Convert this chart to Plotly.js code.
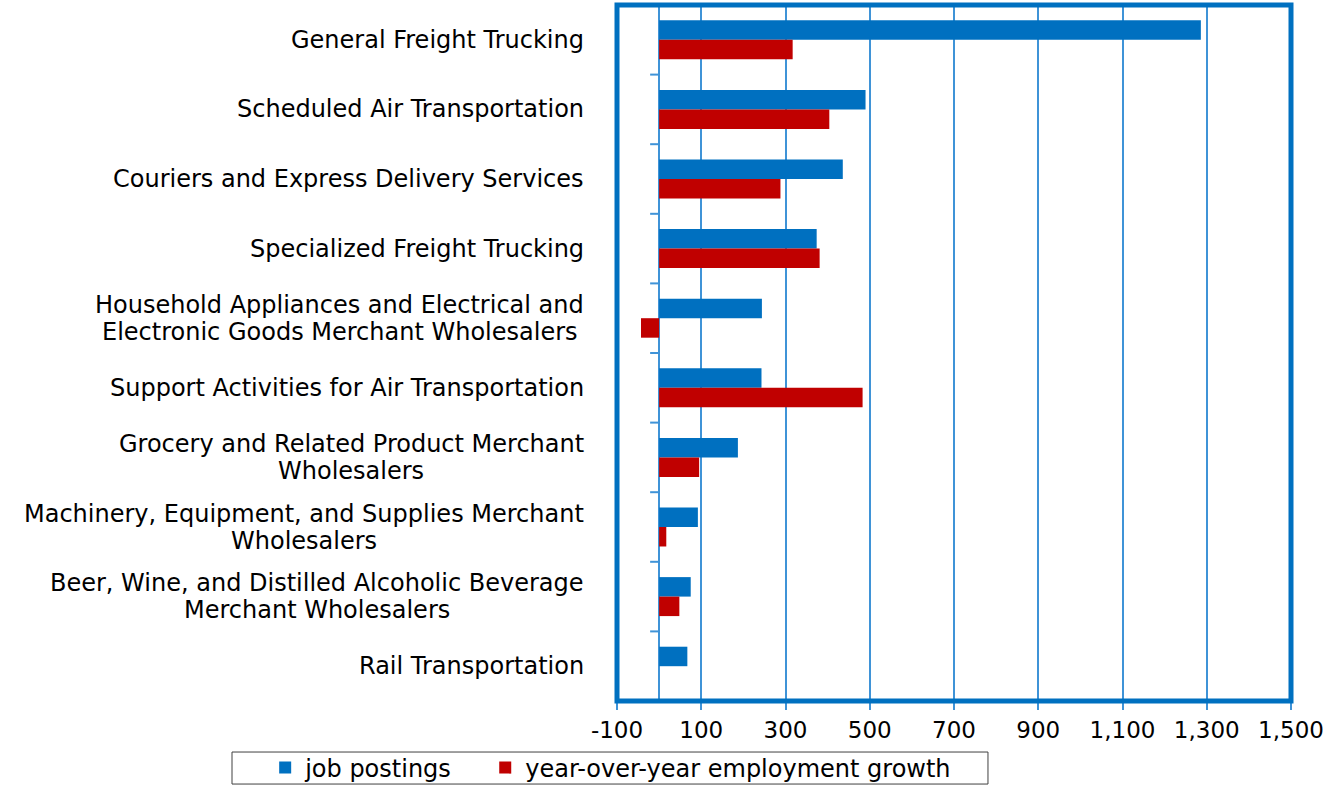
<!DOCTYPE html>
<html>
<head>
<meta charset="utf-8">
<script src="https://cdn.plot.ly/plotly-3.0.1.min.js"></script>
<style>html,body{margin:0;padding:0;background:#fff;}#chart{width:1326px;height:785px;}</style>
</head>
<body>
<div id="chart"></div>
<script>
const categories = [
  "General Freight Trucking",
  "Scheduled Air Transportation",
  "Couriers and Express Delivery Services",
  "Specialized Freight Trucking",
  "Household Appliances and Electrical and<br>Electronic Goods Merchant Wholesalers",
  "Support Activities for Air Transportation",
  "Grocery and Related Product Merchant<br>Wholesalers",
  "Machinery, Equipment, and Supplies Merchant<br>Wholesalers",
  "Beer, Wine, and Distilled Alcoholic Beverage<br>Merchant Wholesalers",
  "Rail Transportation"
];
const jobPostings = [1286, 490, 436, 374, 244, 243, 187, 92, 75, 67];
const employmentGrowth = [317, 404, 288, 381, -43, 483, 95, 17, 48, 0];
const seriesNames = ["job postings", "year-over-year employment growth"];
const xTickValues = [-100, 100, 300, 500, 700, 900, 1100, 1300, 1500];
const xTickLabels = ["-100", "100", "300", "500", "700", "900", "1,100", "1,300", "1,500"];

const BLUE = "#0070C0", RED = "#C00000", GRID = "#3F93D7";
const FONT = "DejaVu Sans, Liberation Sans, Arial, sans-serif";
const LABEL_SIZE = 24, LINE_GAP = 27;

const traces = [
  {type: "bar", orientation: "h", name: seriesNames[0], y: categories, x: jobPostings,
   marker: {color: BLUE, line: {width: 0}}, legend: "legend"},
  {type: "bar", orientation: "h", name: seriesNames[1], y: categories, x: employmentGrowth,
   marker: {color: RED, line: {width: 0}}, legend: "legend2"}
];

const shapes = [
  {type: "rect", xref: "paper", yref: "paper", x0: 0, x1: 1, y0: 0, y1: 1,
   line: {color: BLUE, width: 5}, layer: "above"},
  {type: "rect", xref: "paper", yref: "paper", x0: -0.5712, x1: 0.5504, y0: -0.1193, y1: -0.0733,
   line: {color: "#404040", width: 1}, fillcolor: "rgba(0,0,0,0)"}
];
for (let i = 0; i < categories.length - 1; i++) {
  shapes.push({type: "line", xref: "x", xsizemode: "pixel", xanchor: 0, x0: -9, x1: 0,
    yref: "y", y0: i + 0.5, y1: i + 0.5, line: {color: GRID, width: 2}});
}

// category labels: one annotation per line, lines centred on each other, block right-aligned
const ctx = document.createElement("canvas").getContext("2d");
ctx.font = LABEL_SIZE + "px 'DejaVu Sans'";
const annotations = [];
categories.forEach(c => {
  const lines = c.split("<br>");
  const blockW = Math.max(...lines.map(l => ctx.measureText(l).width));
  lines.forEach((l, k) => {
    annotations.push({
      xref: "paper", x: 0, xanchor: "center", xshift: -33 - blockW / 2,
      yref: "y", y: c, yanchor: "middle", yshift: ((lines.length - 1) / 2 - k) * LINE_GAP,
      text: l, showarrow: false, align: "center",
      font: {family: FONT, size: LABEL_SIZE, color: "#000"}
    });
  });
});

const legendBase = {orientation: "h", xanchor: "left", y: -0.0963, yanchor: "middle",
  borderwidth: 0, bgcolor: "rgba(0,0,0,0)", font: {family: FONT, size: 24, color: "#000"}};

const layout = {
  width: 1326, height: 785,
  margin: {l: 617, r: 35, t: 5, b: 84, pad: 0, autoexpand: false},
  paper_bgcolor: "#fff", plot_bgcolor: "#fff",
  font: {family: FONT, color: "#000"},
  barmode: "group", bargap: 0.44, bargroupgap: 0,
  showlegend: true,
  legend: Object.assign({}, legendBase, {x: -0.522}),
  legend2: Object.assign({}, legendBase, {x: -0.1955}),
  xaxis: {range: [-100, 1500], tickmode: "array", tickvals: xTickValues, ticktext: xTickLabels,
    showgrid: true, gridcolor: GRID, gridwidth: 2,
    zeroline: true, zerolinecolor: GRID, zerolinewidth: 2,
    ticks: "outside", ticklen: 8, tickwidth: 2, tickcolor: GRID,
    showline: false, tickfont: {family: FONT, size: 23, color: "#000"}, fixedrange: true},
  yaxis: {type: "category", autorange: "reversed", showticklabels: false, showgrid: false,
    zeroline: false, ticks: "", showline: false, fixedrange: true},
  shapes: shapes,
  annotations: annotations,
  hovermode: false
};

Plotly.newPlot("chart", traces, layout, {staticPlot: true, displayModeBar: false});
</script>
</body>
</html>
